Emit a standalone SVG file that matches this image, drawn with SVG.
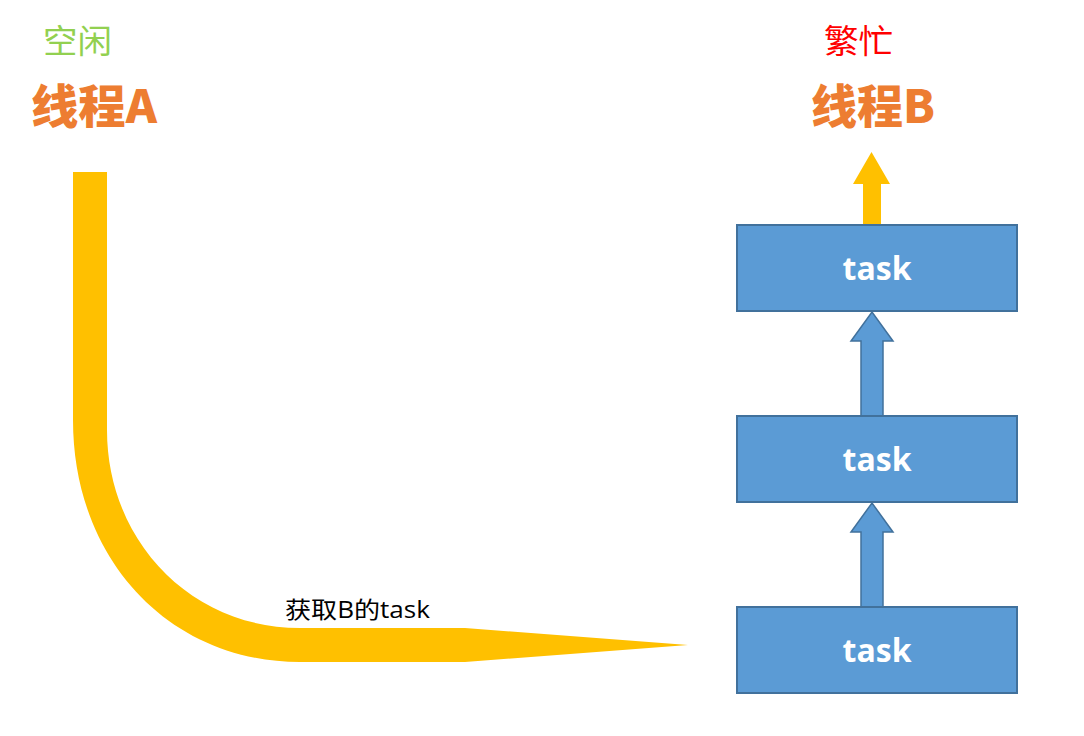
<svg xmlns="http://www.w3.org/2000/svg" width="1084" height="736" viewBox="0 0 1084 736">
<style>
.box{fill:#5B9BD5;stroke:#41719C;stroke-width:2}
.btxt{font-family:"Open Sans","Noto Sans",sans-serif;font-weight:bold;font-size:32px;fill:#fff;text-anchor:middle}
.title{font-family:"Noto Sans CJK SC","Noto Sans",sans-serif;font-weight:900;font-size:46px;fill:#ED7D31}
.state{font-family:"Noto Sans CJK SC",sans-serif;font-size:33px}
.yellow{fill:#FFC000}
.barrow{fill:#5B9BD5;stroke:#41719C;stroke-width:1.5}
</style>
<rect width="1084" height="736" fill="#fff"/>
<g id="labelA">
<text class="state" x="43" y="53" fill="#92D050" textLength="69" lengthAdjust="spacingAndGlyphs">空闲</text>
<text class="title" x="31" y="123" textLength="126" lengthAdjust="spacingAndGlyphs">线程A</text>
</g>
<g id="labelB">
<text class="state" x="824" y="53" fill="#FF0000" textLength="69" lengthAdjust="spacingAndGlyphs">繁忙</text>
<text class="title" x="811" y="123" textLength="124" lengthAdjust="spacingAndGlyphs">线程B</text>
</g>
<g id="connectors">
<path class="yellow" d="M73,172 H107 V430 C107,540 190,628 300,628 H465 L688,645 L465,662 H300 C170,662 73,560 73,420 Z"/>
<path class="yellow" d="M863,225 V184 H853 L871.5,152 L890,184 H881 V225 Z"/>
<path class="barrow" d="M861,416 V341 H851 L872,312 L893,341 H883 V416 Z"/>
<path class="barrow" d="M861,607 V532 H851 L872,503 L893,532 H883 V607 Z"/>
<text x="285" y="618" font-family="Open Sans,Noto Sans CJK SC,sans-serif" font-size="23" fill="#000" textLength="145" lengthAdjust="spacingAndGlyphs">获取B的task</text>
</g>
<g id="task1">
<rect class="box" x="737" y="225" width="280" height="86"/>
<text class="btxt" x="877" y="280">task</text>
</g>
<g id="task2">
<rect class="box" x="737" y="416" width="280" height="86"/>
<text class="btxt" x="877" y="471">task</text>
</g>
<g id="task3">
<rect class="box" x="737" y="607" width="280" height="86"/>
<text class="btxt" x="877" y="662">task</text>
</g>
</svg>
